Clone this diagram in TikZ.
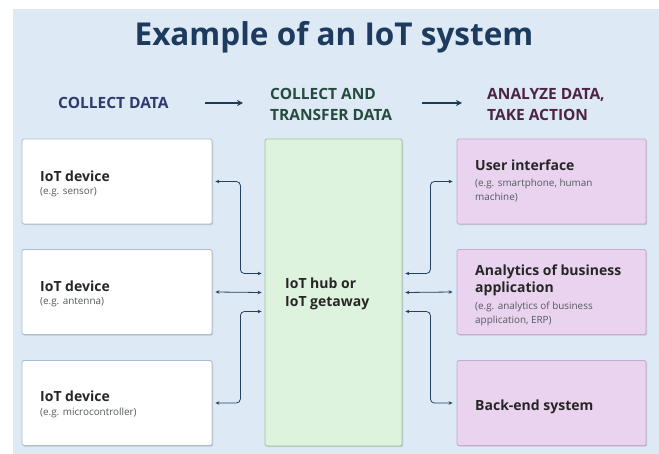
\documentclass[tikz,border=0pt]{standalone}
\usepackage{fontspec}
\setmainfont{Open Sans}
\usetikzlibrary{arrows.meta,shadows}

\definecolor{pagebg}{HTML}{DDE9F4}
\definecolor{titlecol}{HTML}{1D3B5E}
\definecolor{collectcol}{HTML}{2F3B70}
\definecolor{transfercol}{HTML}{264A3E}
\definecolor{analyzecol}{HTML}{4F2346}
\definecolor{devborder}{HTML}{A9BED6}
\definecolor{hubfill}{HTML}{DDF3DE}
\definecolor{hubborder}{HTML}{9CC7A4}
\definecolor{actfill}{HTML}{E9D3EF}
\definecolor{actborder}{HTML}{C9A8D2}
\definecolor{linkcol}{HTML}{23425F}
\definecolor{subcol}{HTML}{555A60}

\tikzset{
  panel/.style={draw, line width=0.8pt, minimum height=85pt, inner sep=0pt, rounded corners=1.5pt,
    drop shadow={shadow xshift=1.2pt, shadow yshift=-1.2pt, opacity=0.25, fill=black!60}},
  devbox/.style={panel, fill=white, draw=devborder, minimum width=190pt},
  actbox/.style={panel, fill=actfill, draw=actborder, minimum width=189pt},
  hubbox/.style={panel, fill=hubfill, draw=hubborder, minimum width=137pt, minimum height=307pt},
  boxtitle/.style={anchor=base west, font=\bfseries\fontsize{14}{17}\selectfont, text=black!85, inner sep=0pt},
  boxnote/.style={anchor=base west, font=\fontsize{9.9}{12}\selectfont, text=subcol, inner sep=0pt},
  header/.style={anchor=base west, font=\bfseries\fontsize{15.5}{18}\selectfont, inner sep=0pt},
  link/.style={draw=linkcol, line width=0.8pt, rounded corners=4pt,
    {Stealth[length=4pt,width=3.5pt]}-{Stealth[length=4pt,width=3.5pt]}},
  flow/.style={draw=titlecol, line width=1.6pt, -{Stealth[length=6pt,width=6pt]}},
}

\begin{document}
\begin{tikzpicture}[x=1pt,y=-1pt]
  \useasboundingbox (0,0) rectangle (659,454);
  \fill[pagebg] (13,9) rectangle (659,454);

  % title
  \node[anchor=base, font=\bfseries\fontsize{31.5}{36}\selectfont, text=titlecol, inner sep=0pt]
    (title) at (334,46) {Example of an IoT system};

  % stage headings
  \node[header, text=collectcol] (h1) at (58,108.5) {COLLECT DATA};
  \node[header, text=transfercol] (h2a) at (270,99.5) {COLLECT AND};
  \node[header, text=transfercol] (h2b) at (270,120.5) {TRANSFER DATA};
  \node[header, text=analyzecol] (h3a) at (487,99.5) {ANALYZE DATA,};
  \node[header, text=analyzecol] (h3b) at (487,120.5) {TAKE ACTION};
  \coordinate (f1s) at (205,103);
  \coordinate (f1e) at (243,103);
  \coordinate (f2s) at (422,103);
  \coordinate (f2e) at (462,103);
  \draw[flow] (f1s) -- (f1e);
  \draw[flow] (f2s) -- (f2e);

  % devices
  \node[devbox] (d1) at (117,181.5) {};
  \node[devbox] (d2) at (117,292) {};
  \node[devbox] (d3) at (117,403) {};
  \node[boxtitle] (d1t) at (40,182) {IoT device};
  \node[boxnote]  (d1n) at (40,195) {(e.g. sensor)};
  \node[boxtitle] (d2t) at (40,292) {IoT device};
  \node[boxnote]  (d2n) at (40,305) {(e.g. antenna)};
  \node[boxtitle] (d3t) at (40,402) {IoT device};
  \node[boxnote]  (d3n) at (40,415) {(e.g. microcontroller)};

  % hub
  \node[hubbox] (hub) at (333.5,292.5) {};
  \node[boxtitle] (hubt1) at (285,289) {IoT hub or};
  \node[boxtitle] (hubt2) at (285,307) {IoT getaway};

  % actions
  \node[actbox] (a1) at (551.5,181.5) {};
  \node[actbox] (a2) at (551.5,292) {};
  \node[actbox] (a3) at (551.5,403) {};
  \node[boxtitle] (a1t) at (475,171) {User interface};
  \node[boxnote]  (a1n1) at (475,187) {(e.g. smartphone, human};
  \node[boxnote]  (a1n2) at (475,201) {machine)};
  \node[boxtitle] (a2t1) at (475,276) {Analytics of business};
  \node[boxtitle] (a2t2) at (475,293) {application};
  \node[boxnote]  (a2n1) at (475,310) {(e.g. analytics of business};
  \node[boxnote]  (a2n2) at (475,324) {application, ERP)};
  \node[boxtitle] (a3t) at (475,410) {Back-end system};

  % device <-> hub links
  \draw[link] ([xshift=3pt]d1.east) -- ++(25,0) |- ([xshift=-3pt,yshift=19pt]hub.west);
  \draw[link] ([xshift=3pt]d2.east) -- ([xshift=-3pt]hub.west);
  \draw[link] ([xshift=3pt]d3.east) -- ++(25,0) |- ([xshift=-3pt,yshift=-19pt]hub.west);

  % hub <-> action links
  \draw[link] ([xshift=3pt,yshift=19pt]hub.east) -- ++(25,0) |- ([xshift=-4pt]a1.west);
  \draw[link] ([xshift=3pt]hub.east) -- ([xshift=-4pt]a2.west);
  \draw[link] ([xshift=3pt,yshift=-19pt]hub.east) -- ++(25,0) |- ([xshift=-4pt]a3.west);
\end{tikzpicture}
\end{document}
